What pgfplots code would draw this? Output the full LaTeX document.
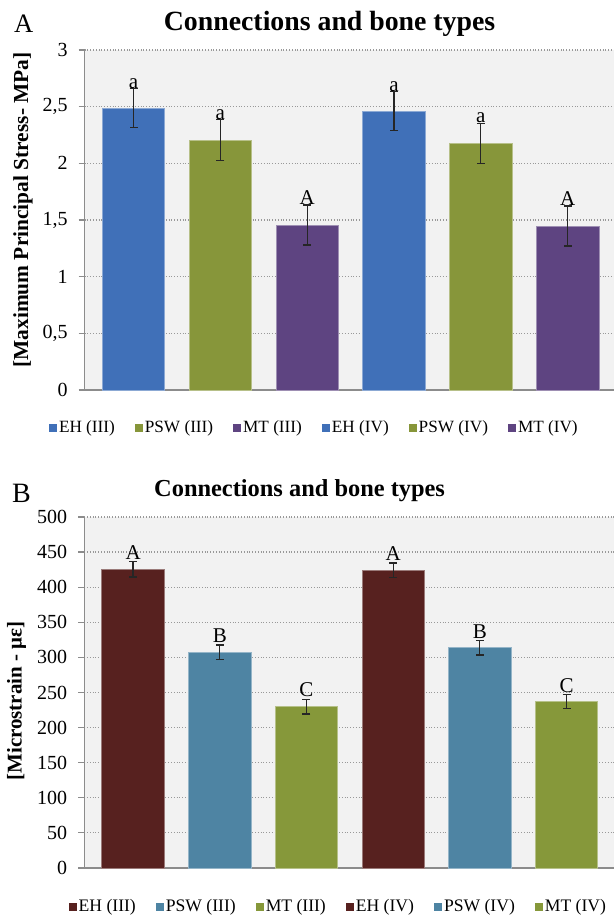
\documentclass[border=0pt]{standalone}
\usepackage{pgfplots}
\pgfplotsset{compat=1.18}
\usepackage{fontspec}
\setmainfont{Liberation Serif}

\definecolor{ablue}{HTML}{4070B8}
\definecolor{agreen}{HTML}{87963A}
\definecolor{apurple}{HTML}{5E4481}
\definecolor{bred}{HTML}{57211F}
\definecolor{bblue}{HTML}{4E84A3}
\definecolor{bgreen}{HTML}{86983A}
\definecolor{axgray}{HTML}{8C8C8C}

\pgfplotsset{
 mybar/.style={ybar, bar shift=0pt, bar width=0.72, fill=#1, draw=#1!60!white, line width=0.4pt,
   error bars/.cd, y dir=both, y explicit,
   error bar style={black!85, line width=0.6pt},
   error mark options={rotate=90, mark size=2pt, black!85, line width=0.6pt}},
 common/.style={scale only axis, ymin=0, xtick=\empty,
   axis x line*=bottom, axis y line*=left,
   axis line style={axgray, line width=0.6pt},
   ymajorgrids, grid style={densely dotted, black!40, line width=0.6pt},
   axis background/.style={fill=black!5},
   tick align=outside, major tick length=3pt,
   ytick style={axgray, line width=0.6pt},
   /pgf/number format/assume math mode=true,
   /pgf/number format/use comma,
   /pgf/number format/1000 sep={},
   yticklabel style={font=\fontsize{10}{12}\selectfont, xshift=-2pt},
   clip=false, legend columns=6},
 letters/.style={only marks, mark=none, nodes near coords, point meta=explicit symbolic,
   forget plot, nodes near coords style={anchor=base, inner sep=0pt, font=\fontsize{10.5}{12}\selectfont, black}}
}

\begin{document}
\begin{tikzpicture}
\useasboundingbox (0,0) rectangle (307pt,458.5pt);

% ---------------- Panel A ----------------
\begin{axis}[common,
  at={(42.3pt,263.5pt)}, anchor=south west,
  width=264.7pt, height=170pt,
  xmin=-0.564, xmax=5.534, ymax=3,
  ytick={0,0.5,1,1.5,2,2.5,3},
  legend image code/.code={\fill[#1, draw=none] (0pt,-2pt) rectangle (4pt,2pt);},
  legend style={at={(-0.068,-0.111)}, anchor=west, draw=none, fill=none, inner sep=0pt,
    font=\fontsize{8.6}{10}\selectfont, nodes={inner sep=1pt},
    /tikz/every even column/.append style={column sep=9pt}},
]
\addplot[mybar=ablue] coordinates {(0,2.488) +- (0,0.170)};
\addplot[mybar=agreen] coordinates {(1,2.206) +- (0,0.178)};
\addplot[mybar=apurple] coordinates {(2,1.456) +- (0,0.177)};
\addplot[mybar=ablue] coordinates {(3,2.462) +- (0,0.170)};
\addplot[mybar=agreen] coordinates {(4,2.176) +- (0,0.178)};
\addplot[mybar=apurple] coordinates {(5,1.447) +- (0,0.177)};
\legend{EH (III), PSW (III), MT (III), EH (IV), PSW (IV), MT (IV)}
\addplot[letters, nodes near coords style={yshift=0.2pt}] coordinates {
  (0,2.658)[a] (1,2.384)[a] (2,1.633)[A] (3,2.632)[a] (4,2.354)[a] (5,1.624)[A]};
\end{axis}

% ---------------- Panel B ----------------
\begin{axis}[common,
  at={(42.1pt,24.5pt)}, anchor=south west,
  width=264.9pt, height=175.5pt,
  xmin=-0.564, xmax=5.547, ymax=500,
  ytick={0,50,...,500},
  legend image code/.code={\fill[#1, draw=none] (0pt,-2pt) rectangle (4pt,2pt);},
  legend style={at={(-0.03,-0.110)}, anchor=west, draw=none, fill=none, inner sep=0pt,
    font=\fontsize{8.8}{10}\selectfont, nodes={inner sep=1pt},
    /tikz/every even column/.append style={column sep=9pt}},
]
\addplot[mybar=bred] coordinates {(0,425.4) +- (0,11)};
\addplot[mybar=bblue] coordinates {(1,307.5) +- (0,10.2)};
\addplot[mybar=bgreen] coordinates {(2,230.0) +- (0,10.5)};
\addplot[mybar=bred] coordinates {(3,424.0) +- (0,10.5)};
\addplot[mybar=bblue] coordinates {(4,313.7) +- (0,10.2)};
\addplot[mybar=bgreen] coordinates {(5,236.7) +- (0,10)};
\legend{EH (III), PSW (III), MT (III), EH (IV), PSW (IV), MT (IV)}
\addplot[letters, nodes near coords style={yshift=1.3pt}] coordinates {
  (0,436.4)[A] (1,317.7)[B] (2,240.5)[C] (3,434.5)[A] (4,323.9)[B] (5,246.7)[C]};
\end{axis}

% ---------------- Texts ----------------
\node[anchor=base west, inner sep=0pt, font=\fontsize{13.3}{15}\selectfont] at (6.85pt,442pt) {A};
\node[anchor=base, inner sep=0pt, font=\bfseries\fontsize{13.9}{16}\selectfont] at (164.8pt,443pt) {Connections and bone types};
\node[rotate=90, inner sep=0pt, font=\bfseries\fontsize{10.7}{12}\selectfont] at (11.5pt,353.5pt) {[Maximum Principal Stress- MPa]};

\node[anchor=base west, inner sep=0pt, font=\fontsize{14}{16}\selectfont] at (5.9pt,207pt) {B};
\node[anchor=base, inner sep=0pt, font=\bfseries\fontsize{12.2}{14}\selectfont] at (149.8pt,210.2pt) {Connections and bone types};
\node[rotate=90, inner sep=0pt, font=\bfseries\fontsize{10.5}{12}\selectfont] at (8.3pt,108pt) {[Microstrain - με]};
\end{tikzpicture}
\end{document}
